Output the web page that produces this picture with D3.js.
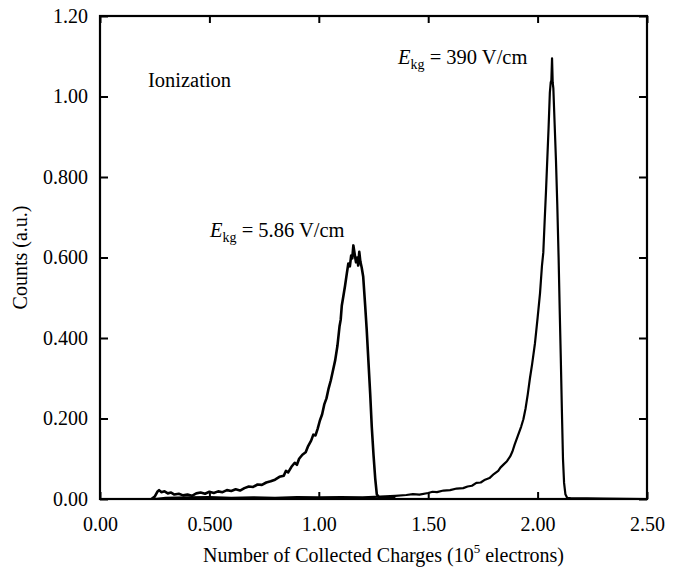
<!DOCTYPE html>
<html>
<head>
<meta charset="utf-8">
<script src="https://cdn.jsdelivr.net/npm/d3@7"></script>
<style>
	body { margin: 0; background: #fff; }
	svg text { font-family: "Liberation Serif", "Times New Roman", serif; fill: #000; }
</style>
</head>
<body>
<svg id="chart" width="676" height="572"></svg>
<script>
// tick labels as printed in the figure
var xTicks = [0, 0.5, 1.0, 1.5, 2.0, 2.5];
var xTickLabels = ["0.00", "0.500", "1.00", "1.50", "2.00", "2.50"];
var yTicks = [0, 0.2, 0.4, 0.6, 0.8, 1.0, 1.2];
var yTickLabels = ["0.00", "0.200", "0.400", "0.600", "0.800", "1.00", "1.20"];

// E_kg = 5.86 V/cm spectrum
var lowX = [0.235, 0.250, 0.262, 0.270, 0.280, 0.295, 0.310, 0.325, 0.340, 0.360,
	0.380, 0.400, 0.420, 0.440, 0.460, 0.480, 0.500, 0.520, 0.540, 0.560,
	0.580, 0.600, 0.620, 0.640, 0.660, 0.680, 0.700, 0.720, 0.740, 0.760,
	0.780, 0.800, 0.820, 0.840, 0.850, 0.860, 0.875, 0.890, 0.900, 0.910,
	0.925, 0.940, 0.950, 0.965, 0.975, 0.985, 0.995, 1.005, 1.015, 1.025,
	1.035, 1.045, 1.055, 1.065, 1.075, 1.085, 1.095, 1.100, 1.105, 1.112,
	1.120, 1.128, 1.135, 1.142, 1.148, 1.153, 1.158, 1.163, 1.170, 1.176,
	1.180, 1.185, 1.190, 1.196, 1.203, 1.212, 1.219, 1.227, 1.235, 1.242,
	1.250, 1.258, 1.265, 1.275, 1.350];
var lowY = [0.000, 0.006, 0.018, 0.022, 0.017, 0.019, 0.014, 0.016, 0.011, 0.013,
	0.009, 0.011, 0.008, 0.014, 0.016, 0.013, 0.018, 0.015, 0.019, 0.017,
	0.022, 0.020, 0.024, 0.021, 0.027, 0.031, 0.030, 0.036, 0.035, 0.041,
	0.044, 0.048, 0.055, 0.058, 0.070, 0.066, 0.080, 0.090, 0.085, 0.100,
	0.110, 0.116, 0.130, 0.145, 0.160, 0.158, 0.175, 0.195, 0.210, 0.235,
	0.250, 0.275, 0.295, 0.320, 0.345, 0.380, 0.430, 0.445, 0.480, 0.503,
	0.530, 0.560, 0.585, 0.578, 0.605, 0.598, 0.630, 0.612, 0.588, 0.600,
	0.580, 0.614, 0.590, 0.575, 0.552, 0.480, 0.420, 0.340, 0.260, 0.180,
	0.110, 0.050, 0.012, 0.004, 0.002];

// E_kg = 390 V/cm spectrum
var highX = [0.250, 0.300, 0.400, 0.500, 0.600, 0.700, 0.800, 0.900, 1.000, 1.100,
	1.200, 1.280, 1.350, 1.400, 1.430, 1.460, 1.500, 1.520, 1.540, 1.570,
	1.600, 1.630, 1.660, 1.680, 1.700, 1.720, 1.740, 1.760, 1.780, 1.800,
	1.820, 1.830, 1.845, 1.860, 1.874, 1.885, 1.895, 1.905, 1.915, 1.925,
	1.935, 1.945, 1.955, 1.965, 1.975, 1.988, 2.000, 2.011, 2.020, 2.026,
	2.033, 2.038, 2.044, 2.050, 2.056, 2.060, 2.063, 2.066, 2.069, 2.072,
	2.078, 2.084, 2.090, 2.096, 2.101, 2.106, 2.111, 2.116, 2.121, 2.127,
	2.135, 2.150, 2.300, 2.500];
var highY = [0.000, 0.003, 0.004, 0.005, 0.003, 0.004, 0.003, 0.005, 0.004, 0.005,
	0.004, 0.006, 0.008, 0.010, 0.012, 0.011, 0.015, 0.018, 0.017, 0.021,
	0.022, 0.026, 0.027, 0.031, 0.033, 0.040, 0.041, 0.048, 0.052, 0.062,
	0.070, 0.078, 0.086, 0.094, 0.105, 0.118, 0.135, 0.150, 0.165, 0.180,
	0.198, 0.225, 0.260, 0.300, 0.335, 0.387, 0.450, 0.511, 0.580, 0.612,
	0.700, 0.760, 0.840, 0.920, 1.010, 1.035, 1.040, 1.095, 1.035, 1.020,
	0.930, 0.840, 0.730, 0.600, 0.470, 0.350, 0.220, 0.100, 0.040, 0.012,
	0.003, 0.002, 0.001, 0.000];

var SpectrumChart = function(){
	var _this = this;

	_this.margin = {left: 100, top: 16, right: 29, bottom: 73};
	_this.fontSize = 20;

	_this.init = function(elementTag){
		_this.svg = d3.select(elementTag);
		if(!_this.svg){
			return false;
		}
		var width = +_this.svg.attr("width"),
		height = +_this.svg.attr("height");
		var m = _this.margin;

		var x = d3.scaleLinear()
			.domain([0, 2.5])
			.range([m.left, width - m.right]);
		var y = d3.scaleLinear()
			.domain([0, 1.2])
			.range([height - m.bottom, m.top]);
		_this.x = x;
		_this.y = y;

		// ticks point inward on all four sides
		var gBottom = _this.svg.append("g")
			.attr("transform", "translate(0," + y(0) + ")")
			.call(d3.axisBottom(x).tickValues(xTicks).tickSize(-7).tickPadding(18)
				.tickFormat(function(d, i){ return xTickLabels[i]; }));
		var gLeft = _this.svg.append("g")
			.attr("transform", "translate(" + x(0) + ",0)")
			.call(d3.axisLeft(y).tickValues(yTicks).tickSize(-8).tickPadding(12)
				.tickFormat(function(d, i){ return yTickLabels[i]; }));
		var gTop = _this.svg.append("g")
			.attr("transform", "translate(0," + y(1.2) + ")")
			.call(d3.axisTop(x).tickValues(xTicks).tickSize(-7).tickFormat(""));
		var gRight = _this.svg.append("g")
			.attr("transform", "translate(" + x(2.5) + ",0)")
			.call(d3.axisRight(y).tickValues(yTicks).tickSize(-8).tickFormat(""));

		[gBottom, gLeft, gTop, gRight].forEach(function(g){
			g.select(".domain").remove();
			g.selectAll(".tick line").attr("stroke", "#000").attr("stroke-width", 2);
			g.selectAll(".tick text")
				.attr("font-family", "Liberation Serif")
				.attr("font-size", _this.fontSize);
		});

		// frame
		_this.svg.append("rect")
			.attr("x", x(0))
			.attr("y", y(1.2))
			.attr("width", x(2.5) - x(0))
			.attr("height", y(0) - y(1.2))
			.attr("fill", "none")
			.attr("stroke", "#000")
			.attr("stroke-width", 2.2);

		var line = d3.line()
			.x(function(d){ return x(d[0]); })
			.y(function(d){ return y(d[1]); });

		_this.svg.append("path")
			.datum(d3.zip(highX, highY))
			.attr("d", line)
			.attr("fill", "none")
			.attr("stroke", "#000")
			.attr("stroke-width", 2.2)
			.attr("stroke-linejoin", "round");

		_this.svg.append("path")
			.datum(d3.zip(lowX, lowY))
			.attr("d", line)
			.attr("fill", "none")
			.attr("stroke", "#000")
			.attr("stroke-width", 2.6)
			.attr("stroke-linejoin", "round");

		// axis titles
		var xt = _this.svg.append("text")
			.attr("x", (x(0) + x(2.5)) / 2 + 10)
			.attr("y", 562)
			.attr("text-anchor", "middle")
			.attr("font-size", _this.fontSize);
		xt.append("tspan").text("Number of Collected Charges (10");
		xt.append("tspan").attr("dy", -9).attr("font-size", 13).text("5");
		xt.append("tspan").attr("dy", 9).text(" electrons)");

		_this.svg.append("text")
			.attr("transform", "translate(27," + y(0.6) + ") rotate(-90)")
			.attr("text-anchor", "middle")
			.attr("font-size", _this.fontSize)
			.text("Counts (a.u.)");

		// annotations
		_this.svg.append("text")
			.attr("x", 148)
			.attr("y", 87)
			.attr("font-size", 20.5)
			.text("Ionization");

		_this.label(210, 237, "5.86 V/cm");
		_this.label(398, 64, "390 V/cm");
	};

	_this.label = function(px, py, value){
		var t = _this.svg.append("text")
			.attr("x", px)
			.attr("y", py)
			.attr("font-size", 20.5);
		t.append("tspan").attr("font-style", "italic").text("E");
		t.append("tspan").attr("dy", 5).attr("font-size", 14).text("kg");
		t.append("tspan").attr("dy", -5).text(" = " + value);
	};
};

var _SpectrumChart = new SpectrumChart();
_SpectrumChart.init("#chart");
</script>
</body>
</html>
